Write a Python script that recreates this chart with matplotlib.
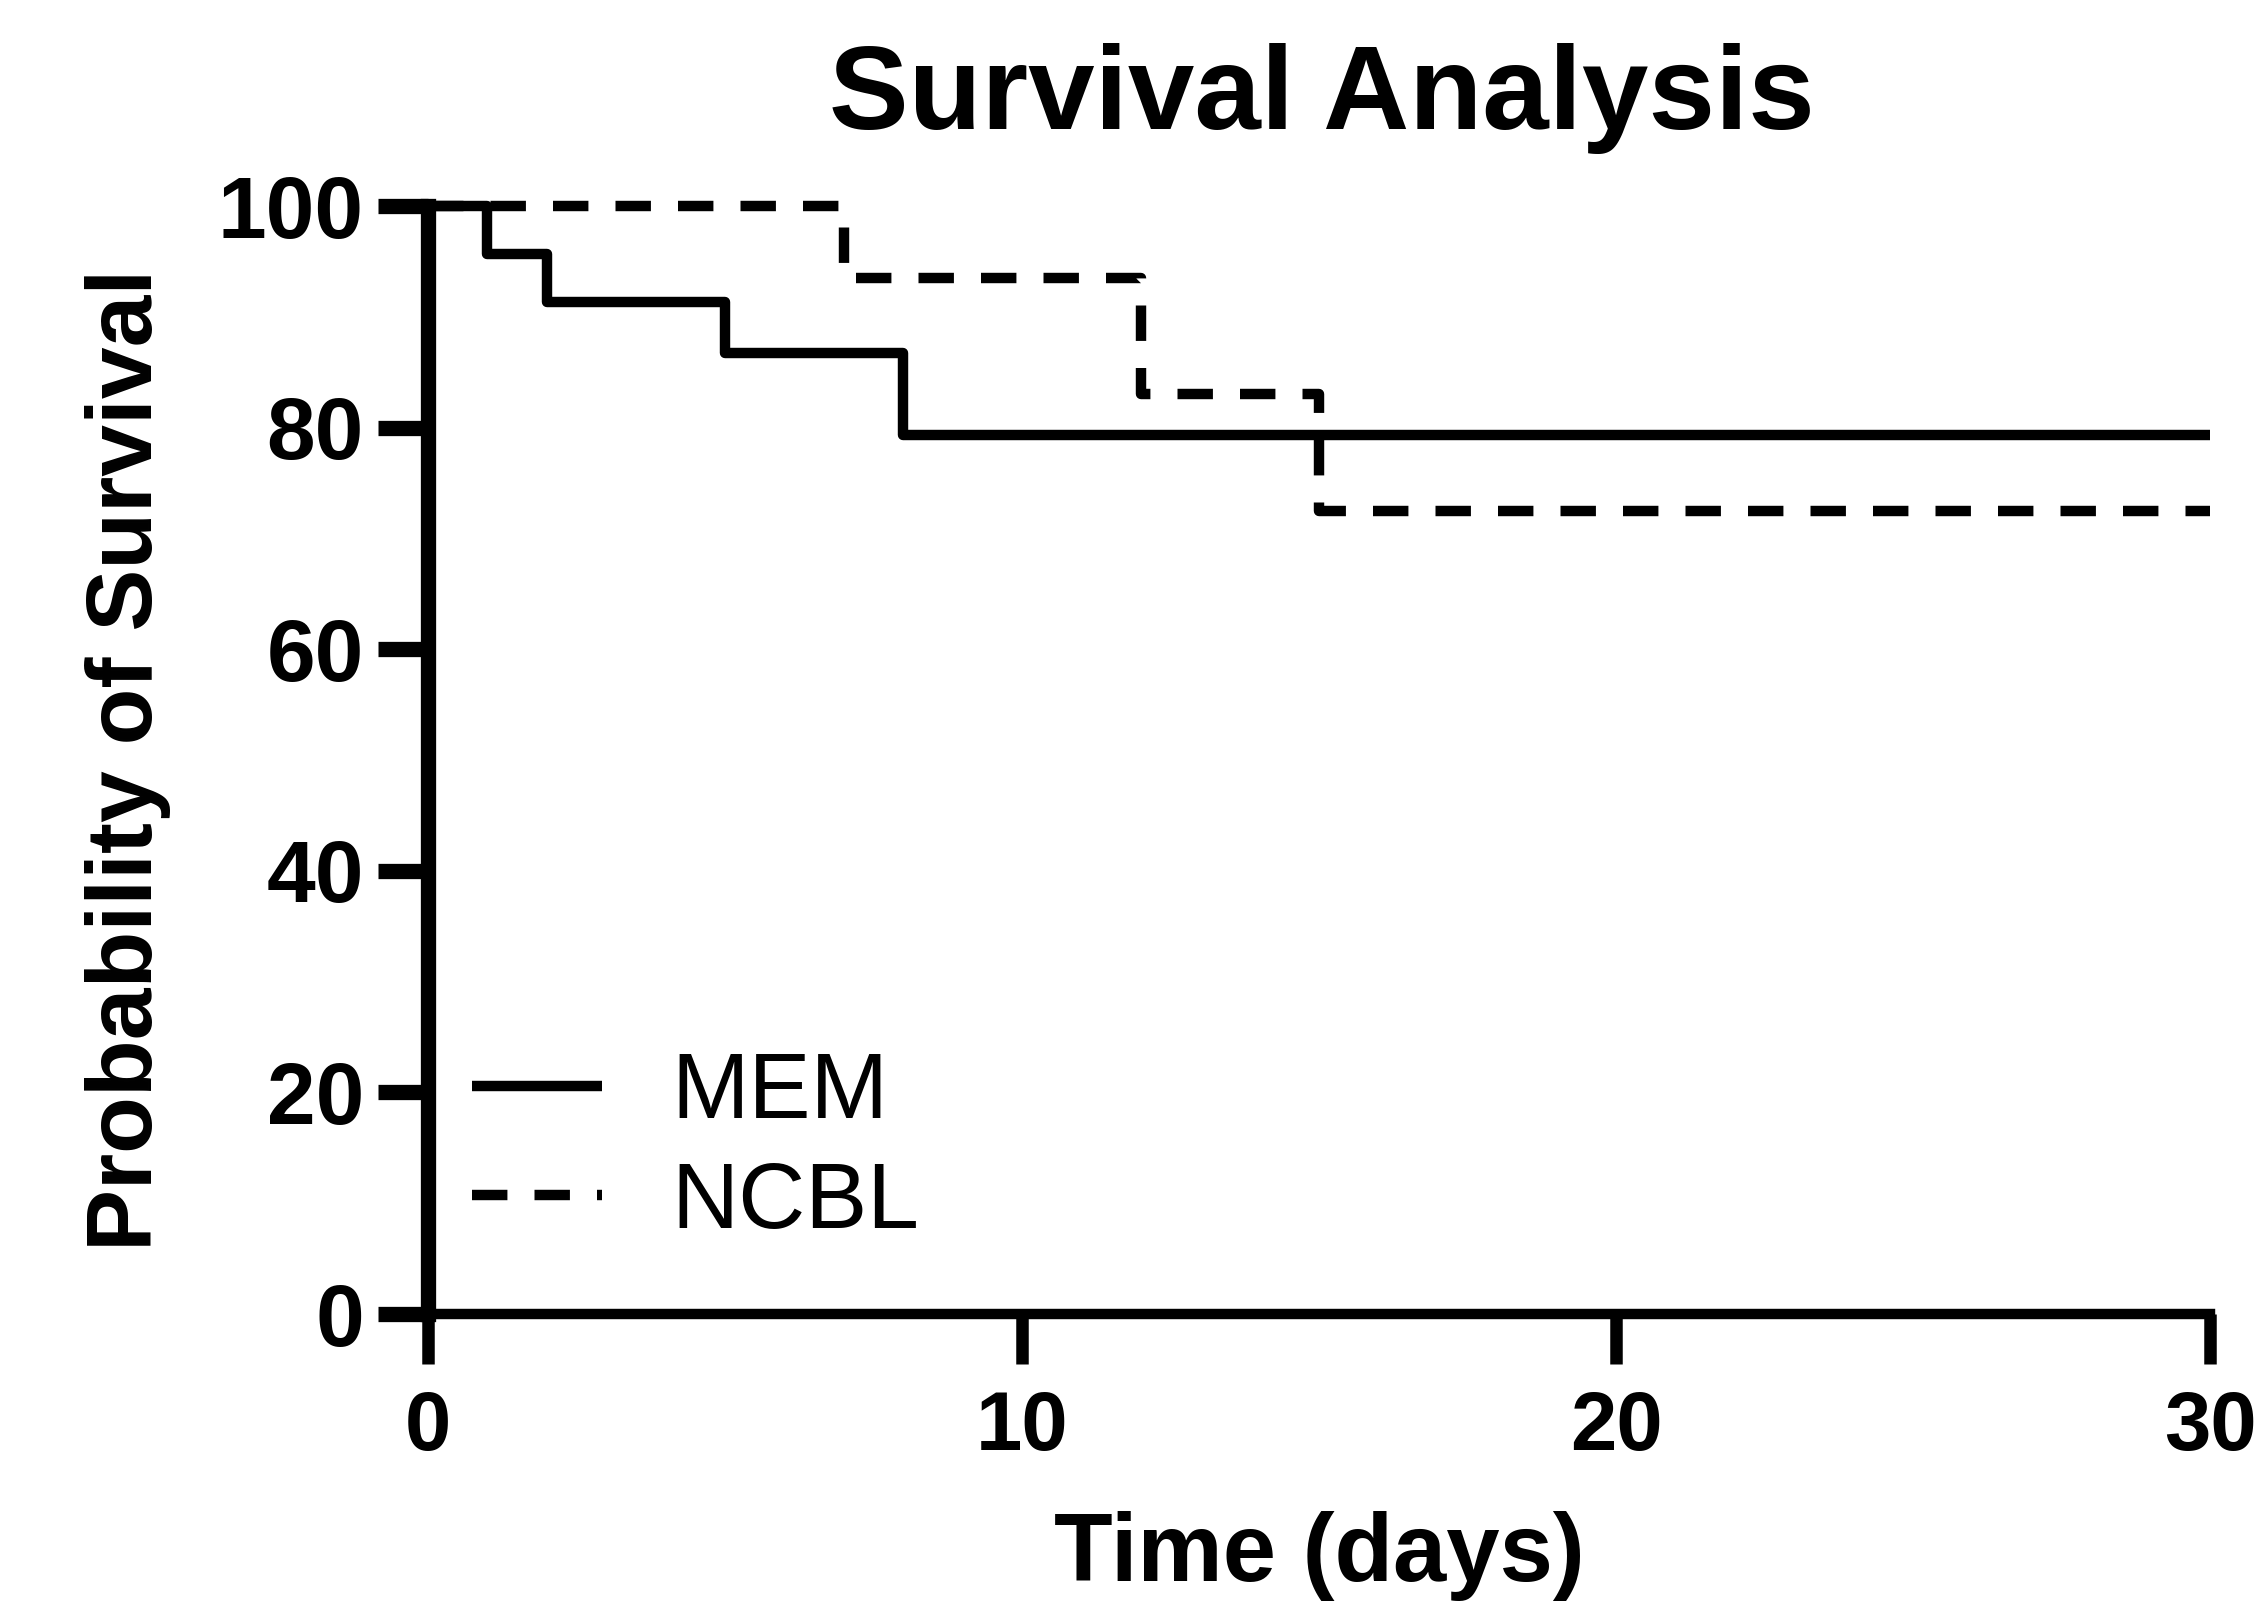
import matplotlib.pyplot as plt

plt.rcParams['font.family'] = ['Liberation Sans', 'DejaVu Sans']

# Kaplan-Meier step data (percent survival)
mem_days = [0, 1, 2, 5, 8, 30]
mem_surv = [100, 95.7, 91.3, 86.7, 79.3, 79.3]
ncbl_days = [0, 7, 12, 15, 30]
ncbl_surv = [100, 93.5, 83.0, 72.5, 72.5]

x_ticks = [0, 10, 20, 30]
y_ticks = [0, 20, 40, 60, 80, 100]

fig = plt.figure(figsize=(22.56, 16.07), dpi=100)
ax = fig.add_axes([0.1897, 0.1823, 0.7899, 0.6895])

ax.step(mem_days, mem_surv, where='post', color='black', lw=7.5,
        solid_capstyle='butt', clip_on=False, label='MEM')
ax.step(ncbl_days, ncbl_surv, where='post', color='black', lw=7.5,
        ls=(0, (3.4, 2.6)), dash_capstyle='butt', clip_on=False, label='NCBL')

ax.set_xlim(0, 30)
ax.set_ylim(0, 100)
ax.set_xticks(x_ticks)
ax.set_yticks(y_ticks)

for s in ['top', 'right']:
    ax.spines[s].set_visible(False)
ax.spines['left'].set_linewidth(11)
ax.spines['bottom'].set_linewidth(7.5)
ax.spines['left'].set_capstyle('projecting')

ax.tick_params(axis='y', length=36, width=11, pad=10, labelsize=63)
ax.tick_params(axis='x', length=36, width=9, pad=18, labelsize=60)
for lab in ax.get_xticklabels() + ax.get_yticklabels():
    lab.set_fontweight('bold')

ax.set_xlabel('Time (days)', fontsize=69, fontweight='bold', labelpad=32)
ax.set_ylabel('Probability of Survival', fontsize=67, fontweight='bold', labelpad=34)

fig.text(0.586, 0.92, 'Survival Analysis', fontsize=86, fontweight='bold',
         ha='center', va='baseline')

ax.legend(loc='center left', bbox_to_anchor=(0.209, 0.285),
          bbox_transform=fig.transFigure, frameon=False, fontsize=67,
          handlelength=1.4, handletextpad=0.75, labelspacing=0.25,
          borderpad=0, borderaxespad=0)

fig.savefig('out.png', dpi=100)
